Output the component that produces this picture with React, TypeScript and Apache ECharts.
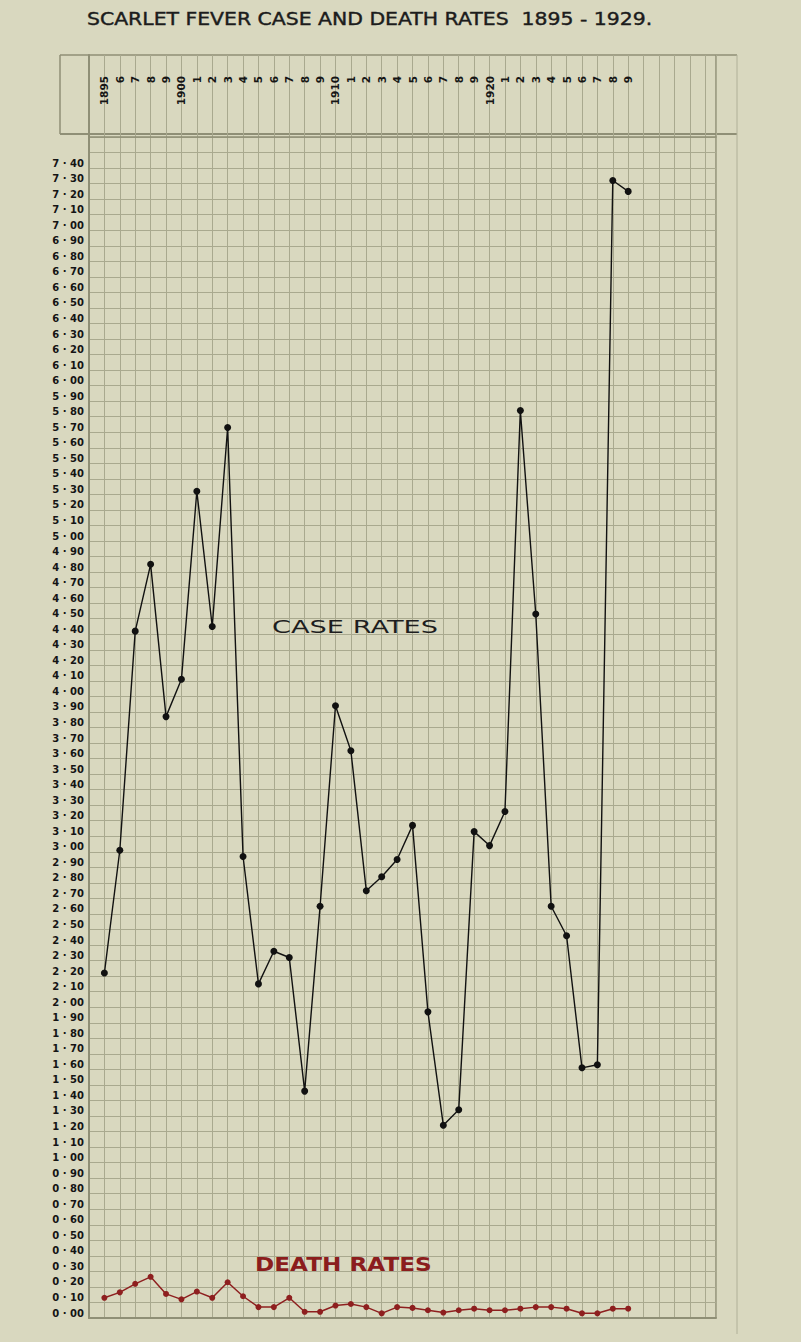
import React, { useEffect, useRef } from 'react';
import * as echarts from 'echarts';

const years = [
  1895, 1896, 1897, 1898, 1899, 1900, 1901, 1902, 1903, 1904,
  1905, 1906, 1907, 1908, 1909, 1910, 1911, 1912, 1913, 1914,
  1915, 1916, 1917, 1918, 1919, 1920, 1921, 1922, 1923, 1924,
  1925, 1926, 1927, 1928, 1929,
];

const yearLabels = [
  '1895', '6', '7', '8', '9', '1900', '1', '2', '3', '4',
  '5', '6', '7', '8', '9', '1910', '1', '2', '3', '4',
  '5', '6', '7', '8', '9', '1920', '1', '2', '3', '4',
  '5', '6', '7', '8', '9',
];

const caseRates = [
  2.22, 3.01, 4.42, 4.85, 3.87, 4.11, 5.32, 4.45, 5.73, 2.97,
  2.15, 2.36, 2.32, 1.46, 2.65, 3.94, 3.65, 2.75, 2.84, 2.95,
  3.17, 1.97, 1.24, 1.34, 3.13, 3.04, 3.26, 5.84, 4.53, 2.65,
  2.46, 1.61, 1.63, 7.32, 7.25,
];

const deathRates = [
  0.13, 0.165, 0.22, 0.265, 0.155, 0.12, 0.17, 0.13, 0.23, 0.14,
  0.07, 0.07, 0.13, 0.04, 0.04, 0.08, 0.09, 0.07, 0.03, 0.07,
  0.065, 0.05, 0.035, 0.05, 0.06, 0.05, 0.05, 0.06, 0.07, 0.07,
  0.06, 0.03, 0.03, 0.06, 0.06,
];

const TITLE = 'SCARLET FEVER CASE AND DEATH RATES  1895 - 1929.';
const CASE_LABEL = 'CASE RATES';
const DEATH_LABEL = 'DEATH RATES';

const X_MIN = 1894;
const X_MAX = 1934.7;
const Y_MAX = 7.6;
const Y_LABEL_MAX = 7.4;

const PAPER = '#d9d8bf';
const GRID_LINE = '#a9a98f';
const BORDER = '#8f8f76';

function fmtRate(v: number): string {
  if (v > Y_LABEL_MAX + 0.001) return '';
  const r = Math.round(v * 100);
  const whole = Math.floor(r / 100);
  const frac = (r % 100).toString().padStart(2, '0');
  return `${whole} · ${frac}`;
}

function fmtYear(v: number): string {
  const i = years.indexOf(Math.round(v));
  if (i < 0 || Math.abs(v - Math.round(v)) > 0.01) return '';
  return yearLabels[i];
}

export default function App() {
  const ref = useRef<HTMLDivElement>(null);

  useEffect(() => {
    document.body.style.margin = '0';
    if (!ref.current) return;
    const chart = echarts.init(ref.current, undefined, { renderer: 'svg' });

    const option: any = {
      animation: false,
      backgroundColor: PAPER,
      textStyle: { fontFamily: 'DejaVu Sans' },
      grid: [
        { left: 89, top: 137, width: 627, height: 1181, show: false },
        { left: 89, top: 55, width: 627, height: 82, show: false },
      ],
      xAxis: [
        {
          gridIndex: 0,
          type: 'value',
          min: X_MIN,
          max: X_MAX,
          interval: 1,
          axisLabel: { show: false },
          axisTick: { show: false },
          axisLine: { show: true, onZero: false, lineStyle: { color: BORDER, width: 2 } },
          splitLine: { show: true, lineStyle: { color: GRID_LINE, width: 1 } },
        },
        {
          gridIndex: 1,
          type: 'value',
          position: 'top',
          min: X_MIN,
          max: X_MAX,
          interval: 1,
          axisLabel: {
            show: true,
            inside: true,
            rotate: 90,
            margin: 21,
            formatter: fmtYear,
            fontSize: 10.5,
            fontWeight: 'bold',
            color: '#161616',
            fontFamily: 'DejaVu Sans',
          },
          axisTick: { show: false },
          axisLine: { show: true, lineStyle: { color: BORDER, width: 1.5 } },
          splitLine: { show: true, lineStyle: { color: GRID_LINE, width: 1 } },
        },
      ],
      yAxis: [
        {
          gridIndex: 0,
          type: 'value',
          min: 0,
          max: Y_MAX,
          interval: 0.1,
          axisLabel: {
            show: true,
            formatter: fmtRate,
            fontSize: 10,
            fontWeight: 'bold',
            color: '#141414',
            margin: 5,
            verticalAlign: 'bottom',
            lineHeight: 10,
            fontFamily: 'DejaVu Sans',
          },
          axisTick: { show: false },
          axisLine: { show: true, lineStyle: { color: BORDER, width: 2 } },
          splitLine: { show: true, lineStyle: { color: GRID_LINE, width: 1 } },
        },
        {
          gridIndex: 1,
          type: 'value',
          min: 0,
          max: 1,
          axisLabel: { show: false },
          axisTick: { show: false },
          axisLine: { show: true, lineStyle: { color: BORDER, width: 2 } },
          splitLine: { show: false },
        },
      ],
      series: [
        {
          name: 'Case rates',
          type: 'line',
          xAxisIndex: 0,
          yAxisIndex: 0,
          data: years.map((y, i) => [y, caseRates[i]]),
          symbol: 'circle',
          symbolSize: 7,
          itemStyle: { color: '#111111' },
          lineStyle: { color: '#111111', width: 1.4 },
          z: 5,
        },
        {
          name: 'Death rates',
          type: 'line',
          xAxisIndex: 0,
          yAxisIndex: 0,
          data: years.map((y, i) => [y, deathRates[i]]),
          symbol: 'circle',
          symbolSize: 6,
          itemStyle: { color: '#8e1f1f' },
          lineStyle: { color: '#8e1f1f', width: 1.5 },
          z: 5,
        },
      ],
      graphic: [
        {
          type: 'text',
          x: 87,
          y: 11,
          scaleX: 1.2,
          style: {
            text: TITLE,
            fontSize: 17,
            fontFamily: 'DejaVu Sans',
            fill: '#1c1c1c',
            stroke: '#1c1c1c',
            lineWidth: 0.4,
          },
        },
        {
          type: 'text',
          x: 272,
          y: 619,
          scaleX: 1.6,
          z: 10,
          style: {
            text: CASE_LABEL,
            fontSize: 17,
            fontFamily: 'DejaVu Sans',
            fill: '#1e1e1e',
          },
        },
        {
          type: 'text',
          x: 255,
          y: 1255,
          scaleX: 1.22,
          z: 10,
          style: {
            text: DEATH_LABEL,
            fontSize: 19,
            fontWeight: 'bold',
            fontFamily: 'DejaVu Sans',
            fill: '#8b1d1d',
          },
        },
        // header frame
        { type: 'line', shape: { x1: 60, y1: 55, x2: 737, y2: 55 }, style: { stroke: BORDER, lineWidth: 1.5 } },
        { type: 'line', shape: { x1: 60, y1: 55, x2: 60, y2: 134 }, style: { stroke: BORDER, lineWidth: 1.5 } },
        { type: 'line', shape: { x1: 60, y1: 134, x2: 737, y2: 134 }, style: { stroke: BORDER, lineWidth: 2 } },
        { type: 'line', shape: { x1: 716, y1: 55, x2: 716, y2: 1318 }, style: { stroke: BORDER, lineWidth: 1.5 } },
        { type: 'line', shape: { x1: 737, y1: 55, x2: 737, y2: 1334 }, style: { stroke: '#b0b098', lineWidth: 1 } },
      ],
    };

    chart.setOption(option);
    return () => chart.dispose();
  }, []);

  return <div ref={ref} style={{ width: 801, height: 1342 }} />;
}
